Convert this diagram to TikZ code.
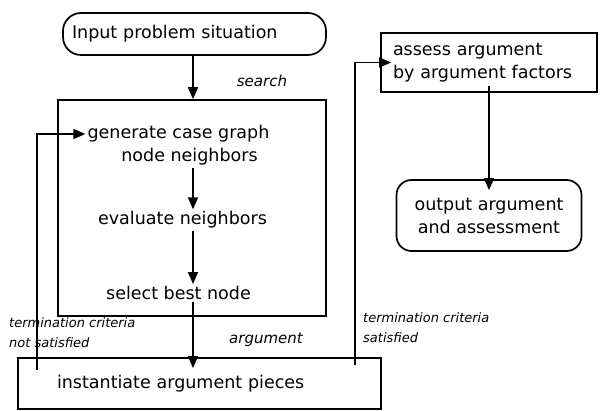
\documentclass[tikz,border=0pt]{standalone}
\usepackage{fontspec}
\setmainfont{DejaVu Sans}
\usepackage{tikz}
\usetikzlibrary{arrows.meta}

\tikzset{
  box/.style={draw, line width=1.7pt, rectangle},
  roundbox/.style={box, rounded corners=15pt},
  txt/.style={font=\fontsize{17.5}{23}\selectfont, inner sep=2pt},
  tag/.style={font=\fontsize{15}{18}\selectfont\itshape},
  smalltag/.style={font=\fontsize{13}{20}\selectfont\itshape, align=left, inner sep=1pt},
  flow/.style={line width=1.7pt, -{Triangle[length=12pt,width=10pt]}},
  into/.style={shorten >=-11pt},
}

\begin{document}
\begin{tikzpicture}[x=1pt,y=-1pt]
\useasboundingbox (0,0) rectangle (600,411);
% Boxes
\node[roundbox, rounded corners=18pt, txt, minimum height=42, text width=245, inner xsep=9, align=left] (input) at (194.5,34) {Input problem situation};
\node[box, minimum width=268, minimum height=216] (searchbox) at (192,208) {};
\node[box, txt, text width=285, inner xsep=39, minimum height=51, align=left] (inst) at (199.5,383.5) {instantiate argument pieces};
\node[box, txt, text width=192, inner xsep=12, minimum height=59, align=left] (assess) at (489,62.5) {assess argument\\by argument factors};
\node[roundbox, txt, minimum width=185, minimum height=71, align=center] (output) at (489,215.5) {output argument\\and assessment};
% Search steps
\node[txt] (gen) at (178.5,134) {generate case graph};
\node[txt] (genb) at (189.5,157) {node neighbors};
\node[txt] (eval) at (182.5,220) {evaluate neighbors};
\node[txt] (sel) at (178.5,293) {select best node};
% Labels
\node[tag] (searchlbl) at (262,81) {search};
\node[tag] (arglbl) at (266,340) {argument};
\node[smalltag, anchor=west] (notsat) at (8,333) {termination criteria\\not satisfied};
\node[smalltag, anchor=west] (sat) at (362,328) {termination criteria\\satisfied};
% Flow
\coordinate (spine) at (193,0);
\draw[flow] (input.south -| spine) -- (searchbox.north -| spine);
\draw[flow] (genb.south -| spine) -- (eval.north -| spine);
\draw[flow] (eval.south -| spine) -- (sel.north -| spine);
\draw[flow, into] (sel.south -| spine) -- (inst.north -| spine);
\draw[flow, into] ([yshift=7]assess.south) -- (output.north);
% Loops
\coordinate (retry) at (37,370);
\coordinate (done) at (355,365);
\draw[flow] (retry) |- (gen.west);
\draw[flow, into] (done) |- (assess.west);
\end{tikzpicture}
\end{document}
